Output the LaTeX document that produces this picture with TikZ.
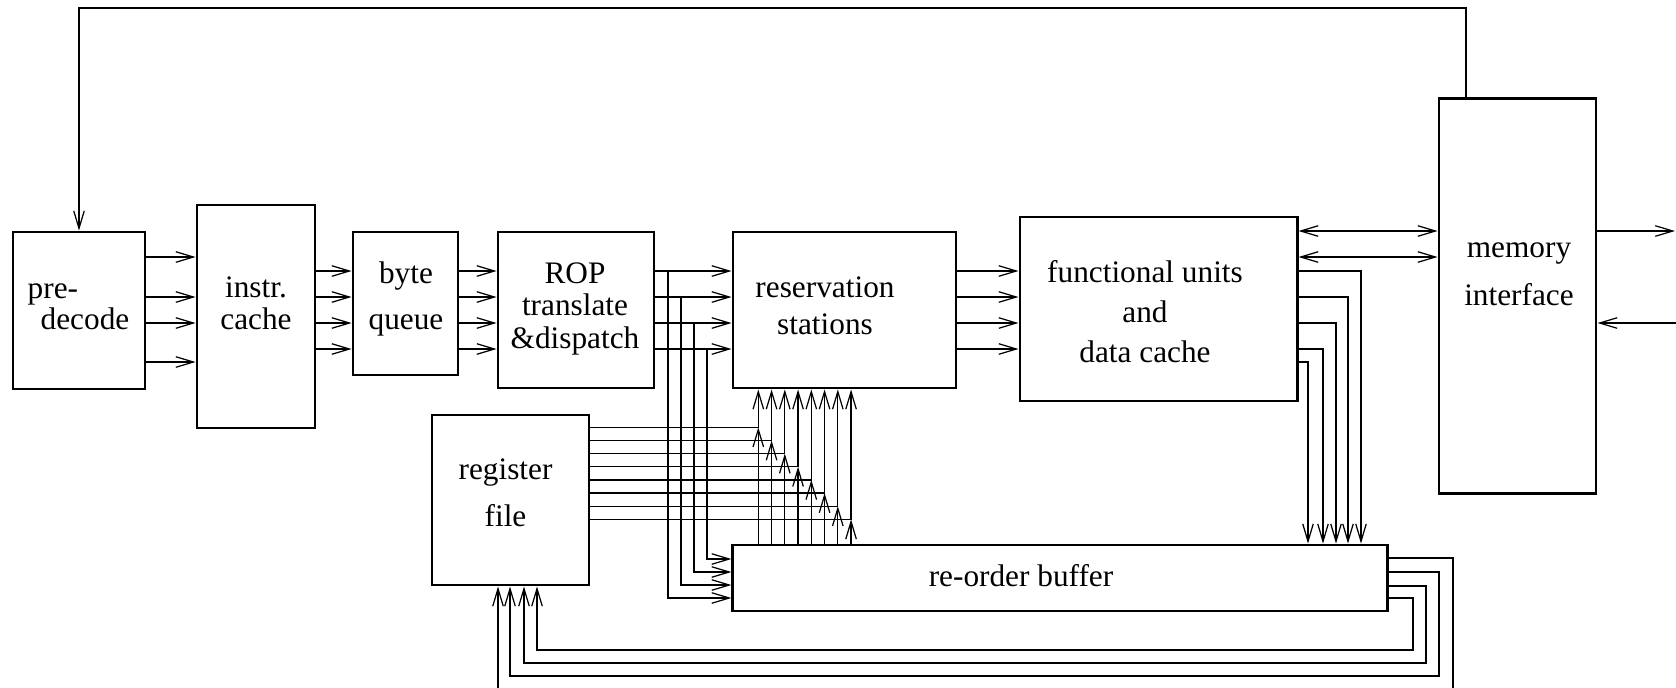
\documentclass[tikz,border=0pt]{standalone}
\usepackage{fontspec}
\setmainfont{Liberation Serif}
\usetikzlibrary{arrows.meta, calc}
\newcommand{\txtsize}[1]{\fontsize{8.9pt}{#1}\selectfont}
\tikzstyle{blk} = [rectangle, draw=black, line width=0.8pt, inner sep=0pt]
\tikzstyle{lbl} = [inner sep=0pt, align=center]
\tikzstyle{arrow} = [line width=0.35pt, -{Straight Barb[length=5pt,width=3pt]}]
\tikzstyle{bidiarrow} = [line width=0.35pt, {Straight Barb[length=5pt,width=3pt]}-{Straight Barb[length=5pt,width=3pt]}]

\begin{document}
\begin{tikzpicture}[x=0.01cm, y=-0.01cm]
\useasboundingbox (0,0) rectangle (1676,687);

% Pipeline blocks
\node (pre) [blk, minimum width=1.32cm, minimum height=1.57cm] at (79,310.5) {};
\node (icache) [blk, minimum width=1.18cm, minimum height=2.23cm] at (256,316.5) {};
\node (bq) [blk, minimum width=1.05cm, minimum height=1.43cm] at (405.5,303.5) {};
\node (rop) [blk, minimum width=1.56cm, minimum height=1.56cm] at (576,310) {};
\node (rs) [blk, minimum width=2.23cm, minimum height=1.56cm] at (844.5,310) {};
\node (fu) [blk, minimum width=2.77cm, minimum height=1.84cm] at (1158.5,309) {};
\node (mem) [blk, minimum width=1.57cm, minimum height=3.94cm] at (1517.5,296) {};
\node (rf) [blk, minimum width=1.57cm, minimum height=1.70cm] at (510.5,500) {};
\node (rob) [blk, minimum width=6.54cm, minimum height=0.66cm] at (1060,578) {};

% Block texts
\node (pretext) [lbl, align=left, font=\txtsize{8.8pt}] at (78.5,306.5) {pre-\\\hspace*{0.13cm}decode};
\node (icachetext) [lbl, font=\txtsize{9.1pt}] at (256,303.5) {instr.\\cache};
\node (bqtext) [lbl, font=\txtsize{13.1pt}] at (406,299) {byte\\queue};
\node (roptext) [lbl, font=\txtsize{9.25pt}] at (575,308.5) {ROP\\translate\\\&dispatch};
\node (rstext) [lbl, font=\txtsize{10.5pt}] at (825,306) {reservation\\stations};
\node (futext) [lbl, font=\txtsize{11.4pt}] at (1145,311.5) {functional units\\and\\data cache};
\node (memtext) [lbl, font=\txtsize{13.7pt}] at (1519,274) {memory\\interface};
\node (rftext) [lbl, font=\txtsize{13.4pt}] at (505.5,493) {register\\file};
\node (robtext) [lbl, font=\txtsize{11pt}] at (1021,575.5) {re-order buffer};

% Fetch path
\draw [arrow] (mem.north -| 1466,0) |- (pre.north |- 0,8) -- (pre.north);
\foreach \y in {257,297,323,362}
  \draw [arrow] (pre.east |- 0,\y) -- (icache.west |- 0,\y);
\foreach \y in {271,297,323,349} {
  \draw [arrow] (icache.east |- 0,\y) -- (bq.west |- 0,\y);
  \draw [arrow] (bq.east |- 0,\y) -- (rop.west |- 0,\y);
  \draw [arrow] (rop.east |- 0,\y) -- (rs.west |- 0,\y);
  \draw [arrow] (rs.east |- 0,\y) -- (fu.west |- 0,\y);
}

% Dispatch into re-order buffer
\foreach \y/\x/\z in {271/668/598, 297/681/585, 323/694/572, 349/707/559}
  \draw [arrow] (rop.east |- 0,\y) -| (\x,\z) -- (rob.west |- 0,\z);

% Memory side
\foreach \y in {231,257}
  \draw [bidiarrow] (fu.east |- 0,\y) -- (mem.west |- 0,\y);
\coordinate (memout) at (1675,231);
\coordinate (memin) at (1677,323);
\draw [arrow] (mem.east |- memout) -- (memout);
\draw [arrow] (memin) -- (mem.east |- memin);

% Results to re-order buffer
\foreach \y/\x in {271/1361, 297/1348, 323/1336, 349/1323, 362/1308}
  \draw [arrow] (fu.east |- 0,\y) -| (rob.north -| \x,0);

% Retire into register file
\foreach \y/\x/\z/\w in {558/1453/690/498, 572/1439/676/510, 586/1426/663/524, 598/1413/650/537}
  \draw [arrow] (rob.east |- 0,\y) -| (\x,\z) -| (rf.south -| \w,0);

% Operand buses to reservation stations
\foreach \i in {0,...,7} {
  \pgfmathsetmacro\x{758.3+13.25*\i}
  \pgfmathsetmacro\y{427.3+13.15*\i}
  \coordinate (j\i) at (\x,\y);
  \draw [arrow] (rf.east |- j\i) -| (rs.south -| j\i);
  \draw [arrow] (rob.north -| j\i) -- (j\i);
}

\end{tikzpicture}
\end{document}
